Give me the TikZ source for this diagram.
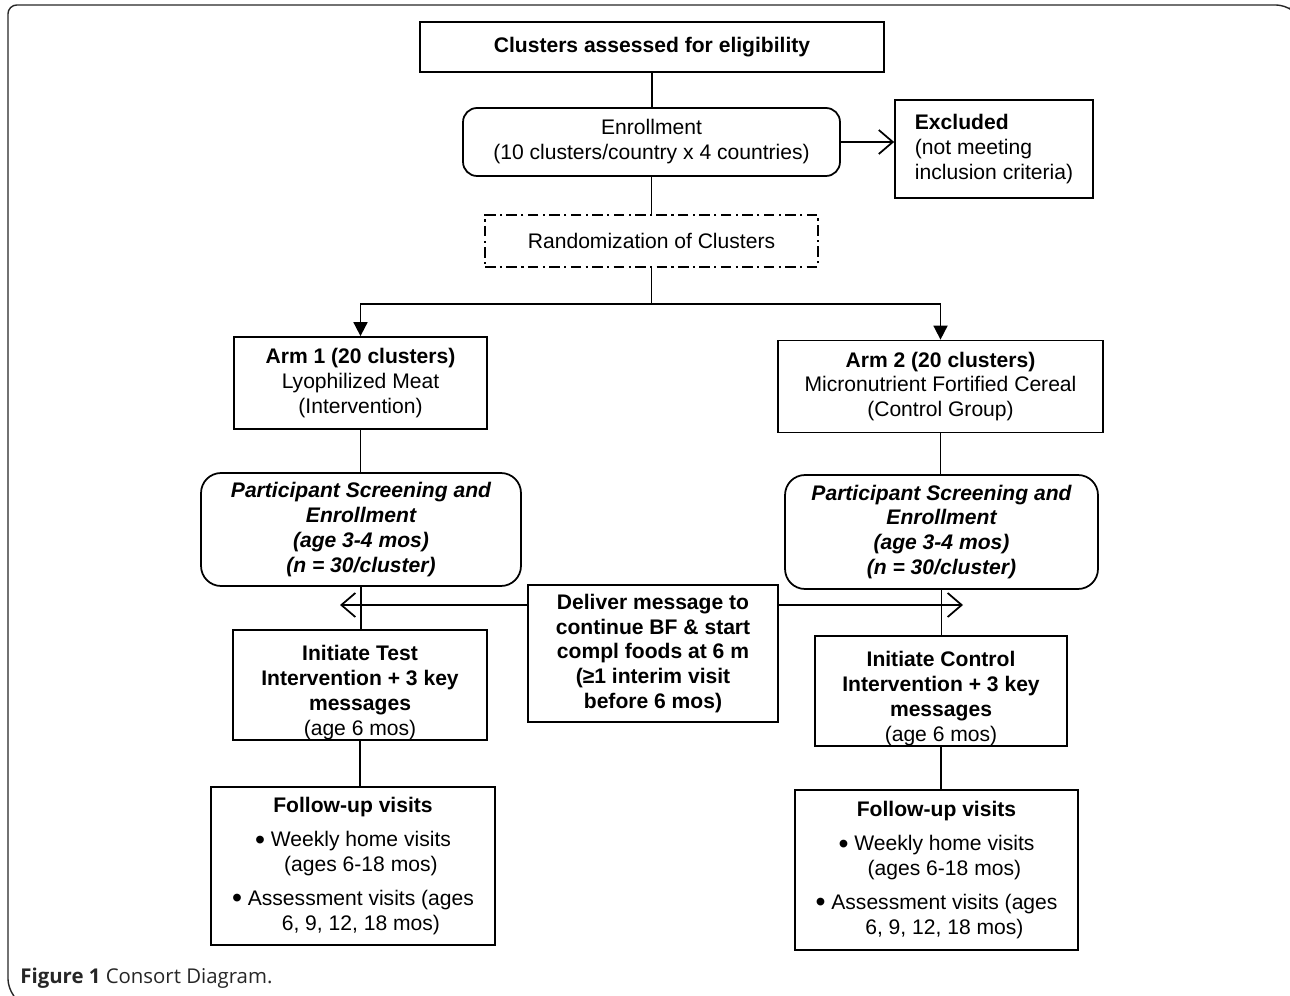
\documentclass[tikz,border=0pt]{standalone}
\usepackage{fontspec}
\usepackage{graphicx}
\setmainfont{Liberation Sans}
\newfontfamily\capfont{Open Sans}
\usetikzlibrary{arrows.meta,positioning}
\newcommand{\diagfont}{\fontsize{12}{14.2}\selectfont}
\newcommand{\dotmark}{\raisebox{-0.25ex}{\scalebox{1.35}{\textbullet}}}
\newcommand{\lowered}[1]{\raisebox{-4.5pt}[\height][\depth]{\begin{tabular}{@{}c@{}}#1\end{tabular}}}
\tikzset{
  block/.style={draw=black, line width=1pt, align=center, fill=white,
    inner sep=3pt, font=\diagfont},
  headblock/.style={block, font=\diagfont\bfseries},
  roundblock/.style={block, rounded corners=0.28cm},
  screenblock/.style={block, rounded corners=0.4cm, font=\diagfont\bfseries\itshape},
  randblock/.style={block, dash pattern=on 6pt off 2.5pt on 1.2pt off 2.5pt},
  ln/.style={line width=1pt},
  arr/.style={-{Triangle[length=2.8mm,width=2.8mm]}, line width=1pt},
  barb/.style={-{Straight Barb[length=2.8mm,width=4.8mm]}, line width=1pt},
  frame/.style={draw=black!85, line width=0.8pt, rounded corners=5pt}
}

\begin{document}
\begin{tikzpicture}[x=0.02cm, y=-0.02cm]
  \useasboundingbox (0,0) rectangle (1290,996);
  \draw[frame] (14,996) -- (8,988) -- (8,5) -- (1285,5) -- (1289,8);

  % top of the chart
  \node[headblock, minimum width=9.28cm, minimum height=1cm] (elig) at (652,47) {Clusters assessed for eligibility};
  \node[roundblock, minimum width=7.54cm, minimum height=1.36cm] (enrol) at (651.5,142) {Enrollment\\(10 clusters/country x 4 countries)};
  \node[block, align=left, minimum width=3.96cm, minimum height=1.96cm] (excl) at (994,149) {{\bfseries Excluded}\\(not meeting\\inclusion criteria)};
  \node[randblock, minimum width=6.66cm, minimum height=1.04cm] (rand) at (651.5,241) {Randomization of Clusters};

  % the two arms
  \node[block, minimum width=5.06cm, minimum height=1.84cm] (arm1) at (360.5,383) {{\bfseries Arm 1 (20 clusters)}\\Lyophilized Meat\\(Intervention)};
  \node[block, minimum width=6.5cm, minimum height=1.84cm] (arm2) at (940.5,386.5) {{\bfseries Arm 2 (20 clusters)}\\Micronutrient Fortified Cereal\\(Control Group)};
  \node[screenblock, minimum width=6.4cm, minimum height=2.26cm] (scr1) at (361,529.5) {Participant Screening and\\Enrollment\\(age 3-4 mos)\\(n = 30/cluster)};
  \node[screenblock, minimum width=6.26cm, minimum height=2.28cm] (scr2) at (941.5,532) {Participant Screening and\\Enrollment\\(age 3-4 mos)\\(n = 30/cluster)};
  \node[headblock, minimum width=5cm, minimum height=2.74cm] (msg) at (653,653.5) {Deliver message to\\continue BF \& start\\compl foods at 6 m\\(≥1 interim visit\\before 6 mos)};
  \node[headblock, minimum width=5.08cm, minimum height=2.2cm] (init1) at (360,685) {\lowered{Initiate Test\\Intervention + 3 key\\messages\\{\mdseries (age 6 mos)}}};
  \node[headblock, minimum width=5.04cm, minimum height=2.2cm] (init2) at (941,691) {\lowered{Initiate Control\\Intervention + 3 key\\messages\\{\mdseries (age 6 mos)}}};
  \node[block, minimum width=5.68cm, minimum height=3.16cm] (fup1) at (353,866) {{\bfseries Follow-up visits}\\[5pt]\dotmark\ Weekly home visits\\\phantom{\dotmark\ }(ages 6-18 mos)\\[5pt]\dotmark\ Assessment visits (ages\\\phantom{\dotmark\ }6, 9, 12, 18 mos)};
  \node[block, minimum width=5.66cm, minimum height=3.2cm] (fup2) at (936.5,870) {{\bfseries Follow-up visits}\\[5pt]\dotmark\ Weekly home visits\\\phantom{\dotmark\ }(ages 6-18 mos)\\[5pt]\dotmark\ Assessment visits (ages\\\phantom{\dotmark\ }6, 9, 12, 18 mos)};

  \node[anchor=base west, inner sep=0pt, text=black!85, font=\capfont\fontsize{11.6}{13}\selectfont] (cap) at (20,983) {\textbf{Figure 1} Consort Diagram.};

  % connectors
  \draw[ln] (elig.south) -- (elig.south |- enrol.north);
  \draw[barb] (enrol.east) -- (enrol.east -| excl.west);
  \draw[ln] (enrol.south) -- (enrol.south |- rand.north);
  \path (rand.south) ++(0,36) coordinate (split);
  \draw[ln] (rand.south) -- (split);
  \draw[arr] (split) -| (arm1.north);
  \draw[arr] (split) -| (arm2.north);
  \draw[ln] (arm1.south) -- (arm1.south |- scr1.north);
  \draw[ln] (arm2.south) -- (arm2.south |- scr2.north);
  \draw[ln] (scr1.south) -- (scr1.south |- init1.north);
  \draw[ln] (scr2.south) -- (scr2.south |- init2.north);
  \coordinate (lefttip) at (340,605);
  \coordinate (righttip) at (963,605);
  \draw[barb] (msg.west |- lefttip) -- (lefttip);
  \draw[barb] (msg.east |- righttip) -- (righttip);
  \draw[ln] (init1.south) -- (init1.south |- fup1.north);
  \draw[ln] (init2.south) -- (init2.south |- fup2.north);
\end{tikzpicture}
\end{document}
